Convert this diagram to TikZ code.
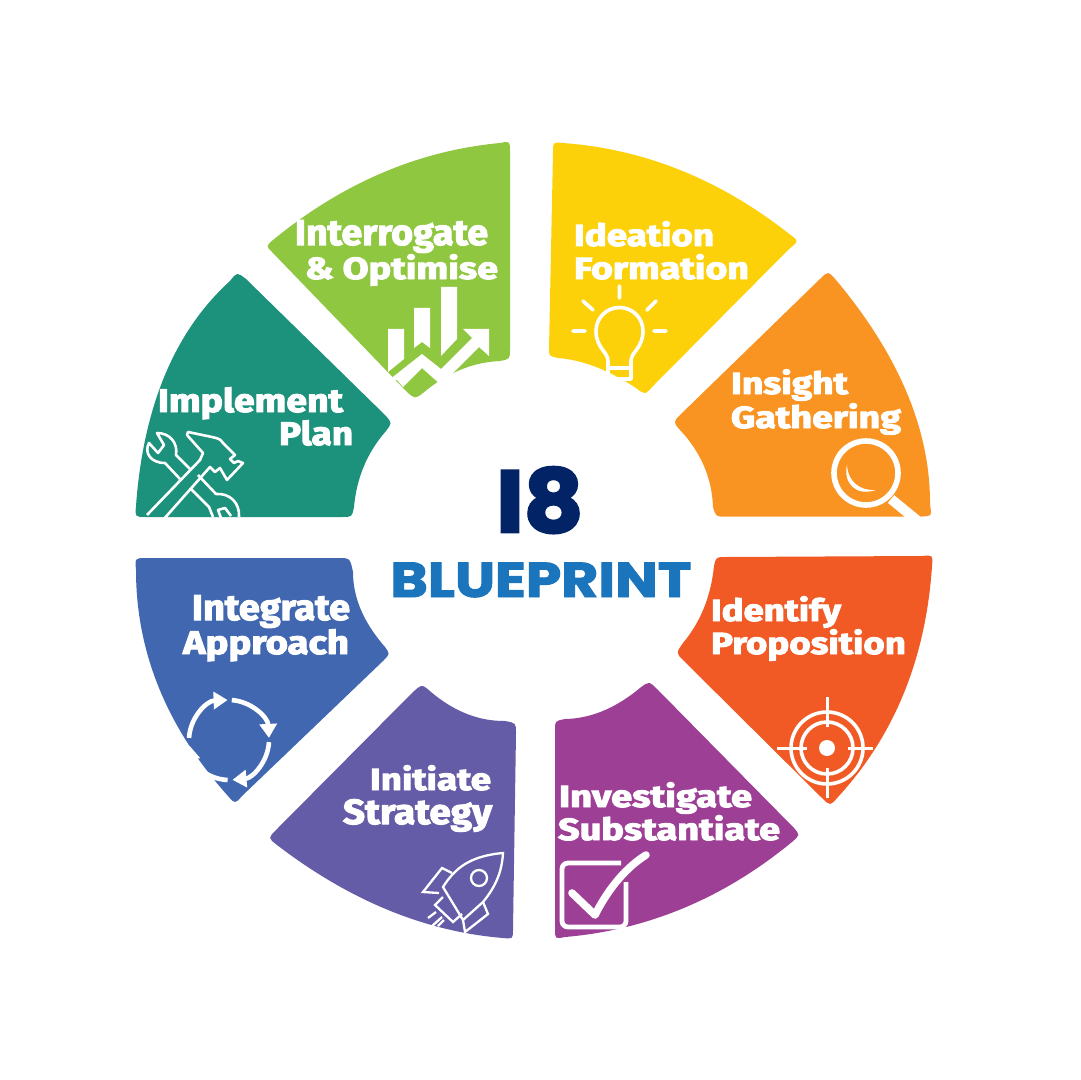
\documentclass[tikz,border=0pt]{standalone}
\usepackage{fontspec}
\usetikzlibrary{calc,arrows.meta}
\newfontfamily\hd{Fira Sans}[BoldFeatures={FakeBold=3}]
\newfontfamily\ttl{Poppins}[BoldFeatures={FakeBold=3}]
\newfontfamily\ttlb{Poppins}[BoldFeatures={FakeBold=2}]
\definecolor{cyel}{HTML}{FCD10A}
\definecolor{cora}{HTML}{F99321}
\definecolor{cred}{HTML}{F15A25}
\definecolor{cpur}{HTML}{9E3F96}
\definecolor{cvio}{HTML}{655CA7}
\definecolor{cblu}{HTML}{4067B0}
\definecolor{ctea}{HTML}{1C917C}
\definecolor{cgre}{HTML}{8FC741}
\definecolor{cnav}{HTML}{022466}
\definecolor{ctit}{HTML}{1B75BC}
\newcommand\cv[3]{.. controls ($(#1)!1/3!(#3)+1.3333*(#2)-0.6667*(#1)-0.6667*(#3)$) and ($(#1)!2/3!(#3)+1.3333*(#2)-0.6667*(#1)-0.6667*(#3)$) .. (#3)}
% lbl: name, x, baseline y, width in px, text (all lines set to one ascender height)
\newcommand\lbl[5]{\node[lab] (#1) at (#2,#3) {\resizebox{\dimexpr #4pt/2\relax}{12.4pt}{\hd\bfseries #5}};}
\tikzset{
  lab/.style={anchor=base west,inner sep=0pt,outer sep=0pt,text=white},
  ico/.style={draw=white,line width=1.8pt,line join=round,line cap=round},
  icofine/.style={draw=white,line width=1.15pt,line join=miter,line cap=butt},
  icotool/.style={draw=white,line width=1.3pt,line join=round,line cap=butt},
}
\begin{document}
\begin{tikzpicture}[x=0.5pt,y=-0.5pt]
\useasboundingbox (0,0) rectangle (1080,1080);
\fill[white] (0,0) rectangle (1080,1080);
% segments
\fill[cyel] (553,152) .. controls (553,142) .. (563,143) \cv{563,143}{680,170}{788,233} .. controls (799,241) .. (789,249) -- (653,386) .. controls (645,395) .. (636,388) \cv{636,388}{596,367}{558,358} .. controls (549,356) .. (549,349) -- cycle;
\fill[cora] (820,279) .. controls (828,271) .. (836,280) \cv{836,280}{907,393}{930,505} .. controls (932,516) .. (922,516.5) -- (727,516.5) .. controls (716,517) .. (713,507) \cv{713,507}{704,466}{680,430} .. controls (673,422) .. (681,414) -- cycle;
\fill[cred] (714,566) .. controls (716,557) .. (726,557) -- (922,556) .. controls (933,555) .. (932,566) \cv{932,566}{904,693}{838,797} .. controls (830,806) .. (822,798) -- (683,660) .. controls (676,653) .. (683,643) \cv{683,643}{704,608}{714,566} -- cycle;
\fill[cpur] (640,688) .. controls (649,681) .. (658,690) -- (794,828) .. controls (800,835) .. (792,842) \cv{792,842}{684,908}{565,937} .. controls (555,939) .. (555,929) -- (555,730) .. controls (555,721) .. (565,719) \cv{565,719}{603,711}{640,688} -- cycle;
\fill[cvio] (413,692) .. controls (422,684) .. (431,692) \cv{431,692}{467,714}{505,721} .. controls (516,723) .. (516,733) -- (513,929) .. controls (513,939) .. (503,938) \cv{503,938}{388,910}{277,845} .. controls (268,838) .. (276,830) -- cycle;
\fill[cblu] (136,570) .. controls (135,558) .. (146,558) -- (338,558) .. controls (350,558) .. (353,572) \cv{353,572}{361,610}{385,647} .. controls (390,654) .. (383,661) -- (242,796) .. controls (235,804) .. (228,796) \cv{228,796}{159,688}{136,570} -- cycle;
\fill[ctea] (230,281) .. controls (237,272) .. (246,279) -- (386,416) .. controls (392,423) .. (386,431) \cv{386,431}{364,466}{354,507} .. controls (352,517) .. (342,517) -- (146,517) .. controls (135,517) .. (136,506) \cv{136,506}{165,375}{230,281} -- cycle;
\fill[cgre] (273,240) \cv{273,240}{382,173}{500,143} .. controls (510,141) .. (510,152) -- (510,349) .. controls (510,359) .. (500,361) \cv{500,361}{460,370}{423,393} .. controls (415,399) .. (407,392) -- (272,252) .. controls (266,246) .. (273,240) -- cycle;
% title
\node[anchor=base west,inner sep=0pt,text=cnav] (ieight) at (496,532) {\resizebox{43.5pt}{32.5pt}{\ttl\bfseries I8}};
\node[anchor=base west,inner sep=0pt,text=ctit] (blueprint) at (390,597) {\resizebox{150.5pt}{17.2pt}{\ttlb\bfseries BLUEPRINT}};
% labels
\lbl{t1a}{574}{246}{140}{Ideation}
\lbl{t1b}{574}{279}{175}{Formation}
\lbl{t2a}{731}{394}{117}{Insight}
\lbl{t2b}{731}{428}{170}{Gathering}
\lbl{t3a}{711}{621}{130}{Identify}
\lbl{t3b}{711}{654}{195}{Proposition}
\lbl{t4a}{559}{807}{193}{Investigate}
\lbl{t4b}{558}{840}{222}{Substantiate}
\lbl{t5a}{370}{790}{121}{Initiate}
\lbl{t5b}{343}{824}{149}{Strategy}
\lbl{t6a}{192}{620}{158}{Integrate}
\lbl{t6b}{183}{654}{166}{Approach}
\lbl{t7a}{158}{412}{185}{Implement}
\lbl{t7b}{279}{445}{74}{Plan}
\lbl{t8a}{295}{245}{193}{Interrogate}
\lbl{t8b}{305}{279}{193}{\& Optimise}
% bulb
\draw[ico] (608,379) -- (608,361) .. controls (608,352) and (596,348) .. (596,331) arc[start angle=180,end angle=360,radius=23.5] .. controls (643,348) and (631,352) .. (631,361) -- (631,379) -- cycle (608,368) -- (631,368);
\draw[ico] (619.5,286) -- (619.5,298) (583,301) -- (593,310) (656,301) -- (647,310) (573,331) -- (585,331) (654,331) -- (666,331);
% magnifier
\draw[white,line width=2.8pt] (866,473) circle[radius=32];
\draw[white,line width=5pt] (891,499) -- (919,522);
\fill[white] (847,465) .. controls (843,482) and (855,497) .. (876,490) .. controls (860,491) and (848,482) .. (847,465) -- cycle;
% target
\draw[white,line width=1.8pt] (827,748) circle[radius=36] (827,748) circle[radius=26];
\fill[white] (827,748) circle[radius=8];
\draw[white,line width=1.5pt] (827,697) -- (827,727) (827,768) -- (827,798) (777,748) -- (807,748) (848,748) -- (873,748);
% check box
\draw[white,line width=2.4pt,rounded corners=3pt] (621,863) -- (562,863) -- (562,927) -- (626,927) -- (626,882);
\draw[white,line width=3.8pt,line cap=round,line join=round] (572,893) -- (595,915) .. controls (605,895) and (622,870) .. (646,855);
% rocket
\draw[icofine] (503,853) .. controls (470,856) and (455,868) .. (443,887) -- (463,920) -- (483,902) .. controls (497,885) and (502,870) .. (503,853) -- cycle;
\draw[icofine] (479,878) circle[radius=8];
\draw[icofine] (452,873) -- (442,868) -- (423,892) -- (439,893);
\draw[icofine] (483,902) -- (488,914) -- (465,932) -- (463,920);
\draw[icofine] (443,897) -- (435,905) -- (453,922) -- (462,914);
\draw[icofine] (428,918) -- (436,912) (431,927) -- (442,917) (438,926) -- (444,920);
% cycle arrows
\foreach \a/\b in {183/268,274/357,3/85,92/172}{
  \draw[white,line width=2.3pt,-{Triangle[length=7pt,width=8.5pt]}] ($(229,740)+(\a:40)$) arc[start angle=\a,end angle=\b,radius=40];
}
% tools
\draw[icotool] (147,515) -- (200,460) -- (203,453) -- (187,435) -- (188,432) -- (212,437) .. controls (220,439) .. (223,443) -- (235,455) -- (230,459) -- (234,463) -- (238,461) -- (243,463) -- (227,480) -- (220,468) -- (215,472) -- (210,467) -- (163,520);
\draw[icotool] (191,470) -- (176,455) .. controls (178,443) and (170,433) .. (157,433) -- (164,445) -- (158,453) -- (149,443) .. controls (144,452) and (150,463) .. (165,463) -- (180,479);
\draw[icotool] (198,475) -- (216,494) .. controls (230,493) and (240,503) .. (239,517) (231,516) -- (225,508) -- (218,510) -- (221,518) (190,488) -- (209,507) -- (213,517);
% chart
\fill[white] (388,329) -- (404,329) -- (404,359) -- (388,372) -- cycle;
\fill[white] (414,308) -- (430,308) -- (430,348) -- (422,342) -- (414,348) -- cycle;
\fill[white] (441,287) -- (457,287) -- (457,339) -- (441,356) -- cycle;
\fill[white] (463,329) -- (489,329) -- (489,356) -- (479,347) -- (441,385) -- (422,368) -- (403,387) -- (397,380) -- (389,380) -- (422,354) -- (441,369) -- (472,338) -- cycle;
\end{tikzpicture}
\end{document}
